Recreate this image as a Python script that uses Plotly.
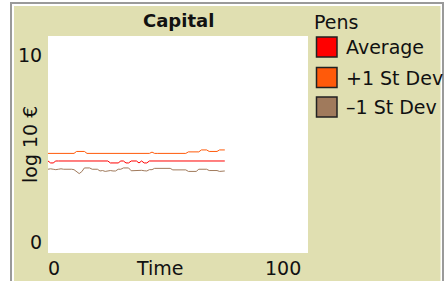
import plotly.graph_objects as go

# ---- data ----
time = list(range(0, 69))
plus_sd = ([4.59] * 11 + [4.68] * 4 + [4.59] * 25 + [4.65] + [4.59] * 13 +
           [4.66] * 5 + [4.75] * 3 + [4.68] * 4 + [4.75] * 3)
average = ([4.24, 4.15, 4.15] + [4.24] * 21 + [4.15] * 4 + [4.24] * 2 + [4.15] * 2 +
           [4.24] * 3 + [4.15] + [4.24] + [4.15] * 2 + [4.24] * 30)
minus_sd = ([3.86, 3.88, 3.86, 3.84, 3.86, 3.88, 3.86, 3.86, 3.88, 3.86, 3.84] +
            [3.75, 3.66, 3.75, 3.92, 3.92, 3.92, 3.86, 3.86, 3.86] +
            [3.78, 3.80, 3.76, 3.78, 3.80, 3.78, 3.78, 3.86, 3.86, 3.92, 3.92, 3.92] +
            [3.79, 3.80, 3.78, 3.79, 3.81, 3.79, 3.78, 3.84, 3.84] +
            [3.90, 3.90, 3.91, 3.90, 3.90, 3.89, 3.90] +
            [3.83, 3.83, 3.82, 3.84, 3.83, 3.83] +
            [3.76, 3.76, 3.77, 3.76, 3.86, 3.86, 3.86, 3.86] +
            [3.80, 3.80, 3.81, 3.80, 3.76, 3.76, 3.78])
series_names = ["Average", "+1 St Dev", "-1 St Dev"]
series_colors = ["#ff0000", "#ff5a0a", "#a07a5c"]
x_tick_labels = ["0", "100"]
y_tick_labels = ["0", "10"]
title_text = "Capital"
x_title = "Time"
y_title = "log 10 €"
legend_title = "Pens"

W, H = 445, 281
L, R, T, B = 48, 308, 36, 253  # plot area in px

def px(x):
    return (x - L) / (R - L)

def py(y):
    return (B - y) / (B - T)

BEIGE = "#e0dfb1"
FONT = "DejaVu Sans"
TXT = "#111111"

fig = go.Figure()
for name, ys, col in zip(series_names, [average, plus_sd, minus_sd], series_colors):
    fig.add_trace(go.Scatter(x=time[:len(ys)], y=ys, mode="lines", name=name,
                             line=dict(color=col, width=1), showlegend=False,
                             hoverinfo="skip"))

shapes = []
def rect(x0, y0, x1, y1, fill, line=None, lw=0):
    shapes.append(dict(type="rect", xref="paper", yref="paper",
                       x0=px(x0), x1=px(x1), y0=py(y1), y1=py(y0),
                       fillcolor=fill, line=dict(width=lw, color=line or fill),
                       layer="below"))

rect(10, 2, 444, 300, "#9a9a9a")
rect(12, 4, 442, 300, "#ffffff")
rect(14, 6, 440.5, 300, BEIGE)
rect(L, T, R, B, "#ffffff")

annotations = []
def text(s, x, y, xanchor="center", size=19, bold=False, angle=0):
    annotations.append(dict(text=("<b>%s</b>" % s) if bold else s,
                            xref="paper", yref="paper", x=px(x), y=py(y),
                            xanchor=xanchor, yanchor="middle", showarrow=False,
                            textangle=angle,
                            font=dict(family=FONT, size=size, color=TXT)))

text(title_text, 178, 21, bold=True, size=18)
text(y_tick_labels[1], 44, 55, xanchor="right")
text(y_tick_labels[0], 44, 242, xanchor="right")
text(x_tick_labels[0], 46, 268, xanchor="left")
text(x_tick_labels[1], 303, 268, xanchor="right")
text(x_title, 160, 268)
text(y_title, 30, 145, angle=-90)
text(legend_title, 312, 22, xanchor="left")

legend_rows = [47, 77.5, 107]
for name, col, yc in zip(series_names, series_colors, legend_rows):
    shapes.append(dict(type="rect", xref="paper", yref="paper",
                       x0=px(316.5), x1=px(337), y0=py(yc + 10), y1=py(yc - 10),
                       fillcolor=col, line=dict(width=1.5, color="#222222"),
                       layer="above"))
    text(name.replace("-", "\u2013"), 344, yc, xanchor="left")

fig.update_layout(
    width=W, height=H,
    margin=dict(l=L, r=W - R, t=T, b=H - B, pad=0),
    paper_bgcolor="#ffffff", plot_bgcolor="#ffffff",
    xaxis=dict(range=[0, 100], visible=False, fixedrange=True),
    yaxis=dict(range=[0, 10], visible=False, fixedrange=True),
    shapes=shapes, annotations=annotations, showlegend=False,
)
fig.write_html("out.html", config={"displayModeBar": False},
               post_script="document.body.style.margin='0';document.body.style.padding='0';document.body.style.overflow='hidden';")
